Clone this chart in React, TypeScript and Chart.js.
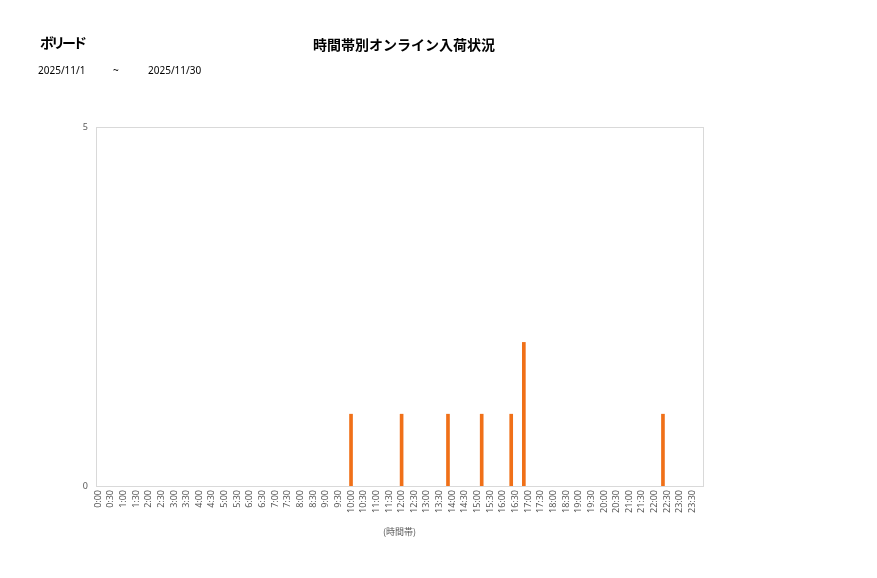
import React, { useEffect, useRef } from "react";
import { Chart, registerables } from "chart.js";

Chart.register(...registerables);

const tickLabels = [
  "0:00", "0:30", "1:00", "1:30", "2:00", "2:30", "3:00", "3:30",
  "4:00", "4:30", "5:00", "5:30", "6:00", "6:30", "7:00", "7:30",
  "8:00", "8:30", "9:00", "9:30", "10:00", "10:30", "11:00", "11:30",
  "12:00", "12:30", "13:00", "13:30", "14:00", "14:30", "15:00", "15:30",
  "16:00", "16:30", "17:00", "17:30", "18:00", "18:30", "19:00", "19:30",
  "20:00", "20:30", "21:00", "21:30", "22:00", "22:30", "23:00", "23:30",
];
const arrivalTimes = ["10:00", "12:00", "13:50", "15:10", "16:20", "16:50", "22:20"];
const arrivalCounts = [1, 1, 1, 1, 1, 2, 1];
const yTicks = [0, 5];

const toMin = (t: string) => {
  const [h, m] = t.split(":").map(Number);
  return h * 60 + m;
};

const FONT = '"Noto Sans", "Noto Sans CJK JP", sans-serif';
const JP = '"Noto Sans CJK JP", sans-serif';

const frame = {
  id: "frame",
  beforeDatasetsDraw(chart: any) {
    const { ctx, chartArea } = chart;
    ctx.save();
    ctx.strokeStyle = "#d9d9d9";
    ctx.lineWidth = 1;
    ctx.strokeRect(
      Math.round(chartArea.left) + 0.5,
      Math.round(chartArea.top) + 0.5,
      Math.round(chartArea.right - chartArea.left),
      Math.round(chartArea.bottom - chartArea.top)
    );
    ctx.restore();
  },
};

export default function App() {
  const ref = useRef<HTMLCanvasElement>(null);
  useEffect(() => {
    if (!ref.current) return;
    const chart = new Chart(ref.current, {
      type: "bar",
      data: {
        datasets: [
          {
            data: arrivalTimes.map((t, i) => ({ x: toMin(t), y: arrivalCounts[i] })),
            backgroundColor: "#F07018",
            borderWidth: 0,
            barThickness: 3,
          },
        ],
      },
      options: {
        animation: false,
        responsive: false,
        events: [],
        layout: { padding: { left: 0, top: 127, right: 174, bottom: 37 } },
        plugins: { legend: { display: false }, tooltip: { enabled: false } },
        scales: {
          x: {
            type: "linear",
            offset: false,
            min: -5,
            max: 1435,
            grid: { display: false, drawTicks: false, offset: false },
            border: { display: false },
            afterBuildTicks: (scale: any) => {
              scale.ticks = tickLabels.map((t) => ({ value: toMin(t) }));
            },
            afterFit: (scale: any) => {
              scale.height = 55;
            },
            ticks: {
              autoSkip: false,
              maxRotation: 90,
              minRotation: 90,
              padding: 4,
              color: "#595959",
              font: { family: FONT, size: 9 },
              callback: (_v: any, i: number) => tickLabels[i],
            },
            title: {
              display: true,
              text: "(時間帯)",
              color: "#595959",
              font: { family: JP, size: 9 },
              padding: { top: 0, bottom: 4 },
            },
          },
          y: {
            min: 0,
            max: 5,
            grid: { display: false, drawTicks: false },
            border: { display: false },
            afterBuildTicks: (scale: any) => {
              scale.ticks = yTicks.map((v) => ({ value: v }));
            },
            afterFit: (scale: any) => {
              scale.width = 96;
            },
            ticks: {
              padding: 8,
              color: "#595959",
              font: { family: FONT, size: 9 },
            },
          },
        },
      },
      plugins: [frame],
    });
    return () => chart.destroy();
  }, []);

  return (
    <div style={{ position: "absolute", left: 0, top: 0, width: 877, height: 578, background: "#fff" }}>
      <canvas ref={ref} width={877} height={578} style={{ position: "absolute", left: 0, top: 0, width: 877, height: 578 }} />
      <div style={{ position: "absolute", left: 40, top: 33, fontFamily: JP, fontWeight: 700, fontSize: 14, lineHeight: "18px", letterSpacing: "-3px", color: "#000" }}>
        ボリード
      </div>
      <div style={{ position: "absolute", left: 313, top: 35, fontFamily: JP, fontWeight: 700, fontSize: 14, lineHeight: "18px", color: "#000" }}>
        時間帯別オンライン入荷状況
      </div>
      <div style={{ position: "absolute", left: 38, top: 64, fontFamily: FONT, fontSize: 10, lineHeight: "13px", color: "#000" }}>
        2025/11/1
      </div>
      <div style={{ position: "absolute", left: 113, top: 64, fontFamily: FONT, fontSize: 10, lineHeight: "13px", color: "#000" }}>
        ~
      </div>
      <div style={{ position: "absolute", left: 148, top: 64, fontFamily: FONT, fontSize: 10, lineHeight: "13px", color: "#000" }}>
        2025/11/30
      </div>
    </div>
  );
}
